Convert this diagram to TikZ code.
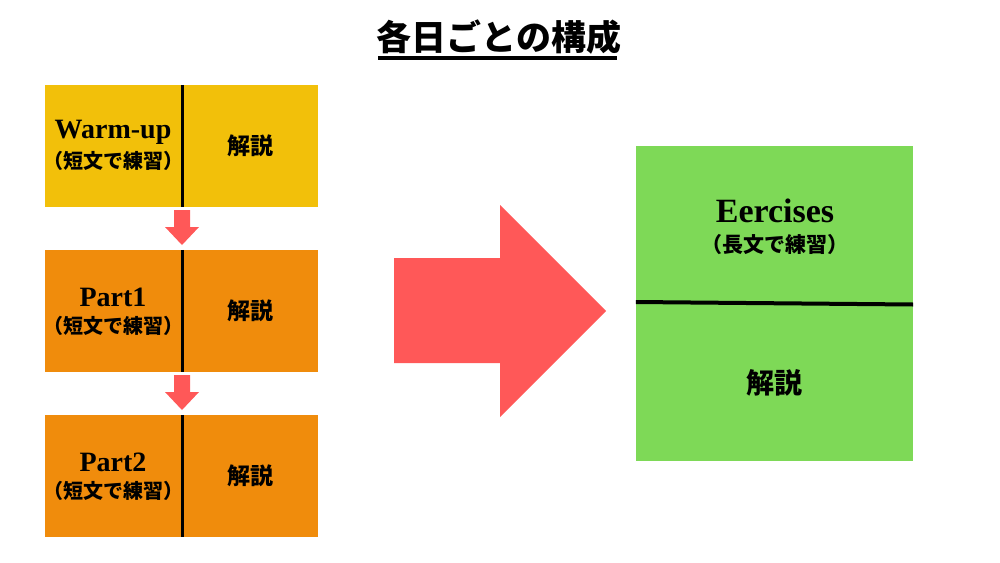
\documentclass[tikz,border=0pt]{standalone}
\usepackage{fontspec}
\setmainfont{Liberation Serif}
\newfontfamily\jp{Noto Sans CJK JP}
\definecolor{warmc}{RGB}{242,192,10}
\definecolor{partc}{RGB}{240,140,12}
\definecolor{greenc}{RGB}{126,217,87}
\definecolor{redc}{RGB}{255,88,88}
\begin{document}
\begin{tikzpicture}[x=1pt,y=-1pt,
  box/.style={inner sep=0pt, minimum width=273pt, minimum height=122pt},
  divline/.style={line width=3.5pt, black},
  lat/.style={inner sep=0pt, font=\bfseries\fontsize{28}{30}\selectfont},
  jps/.style={inner sep=0pt, font=\jp\bfseries\fontsize{20}{22}\selectfont},
  jpk/.style={inner sep=0pt, font=\jp\bfseries\fontsize{23}{25}\selectfont},
  blockarrow/.style={fill=redc}]
\useasboundingbox[fill=white] (0,0) rectangle (1000,562);
% title
\node[inner sep=0pt, font=\jp\bfseries\fontsize{35}{40}\selectfont] (title) at (499,37) {各日ごとの構成};
\draw[line width=4pt] (378,58) coordinate (ul1) -- (617,58) coordinate (ul2);
% left boxes
\node[box, fill=warmc] (w) at (181.5,146) {};
\node[box, fill=partc] (p1) at (181.5,311) {};
\node[box, fill=partc] (p2) at (181.5,476) {};
\foreach \b in {w,p1,p2}{\draw[divline] ([xshift=1pt]\b.north) -- ([xshift=1pt]\b.south);}
\node[lat] (wt) at (113,132) {Warm-up};
\node[jps] (wj) at (113,161) {（短文で練習）};
\node[jpk] (wk) at (250,146) {解説};
\node[lat] (p1t) at (113,297) {Part1};
\node[jps] (p1j) at (113,326) {（短文で練習）};
\node[jpk] (p1k) at (250,311) {解説};
\node[lat] (p2t) at (113,462) {Part2};
\node[jps] (p2j) at (113,491) {（短文で練習）};
\node[jpk] (p2k) at (250,476) {解説};
% small arrows
\fill[blockarrow] (174,210) -- (190,210) -- (190,227) -- (199,227) -- (182,245) -- (165,227) -- (174,227) -- cycle;
\fill[blockarrow] (174,375) -- (190,375) -- (190,392) -- (199,392) -- (182,410) -- (165,392) -- (174,392) -- cycle;
% big arrow
\fill[blockarrow] (394,258) -- (500,258) -- (500,205) -- (606,311) -- (500,417) -- (500,363) -- (394,363) -- cycle;
% right box
\node[inner sep=0pt, minimum width=277pt, minimum height=315pt, fill=greenc] (ex) at (774.5,303.5) {};
\draw[line width=4pt] ([yshift=1.5pt]ex.west) -- ([yshift=-1pt]ex.east);
\node[inner sep=0pt, font=\bfseries\fontsize{34}{36}\selectfont] (ext) at (775,211) {Eercises};
\node[inner sep=0pt, font=\jp\bfseries\fontsize{21}{23}\selectfont] (exj) at (775,245) {（長文で練習）};
\node[inner sep=0pt, font=\jp\bfseries\fontsize{28}{30}\selectfont] (exk) at (774,383) {解説};
\end{tikzpicture}
\end{document}
